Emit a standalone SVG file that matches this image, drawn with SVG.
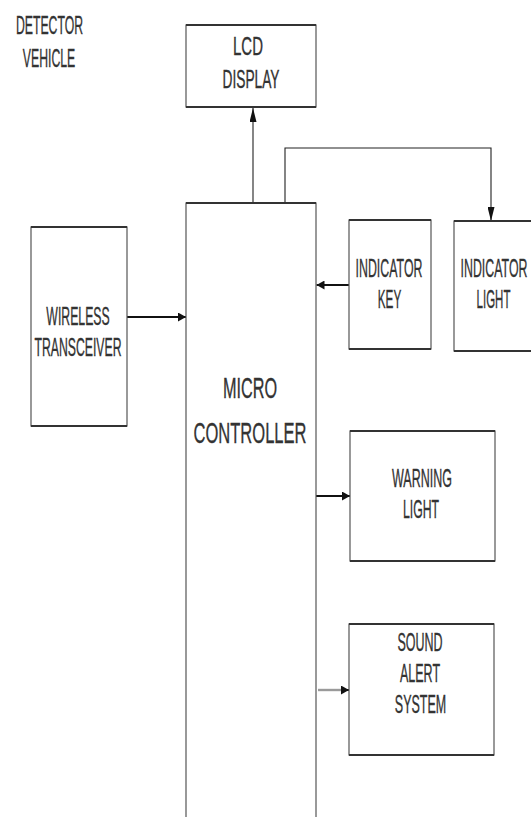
<svg xmlns="http://www.w3.org/2000/svg" width="531" height="817" viewBox="0 0 531 817">
<defs>
<style>
.box{fill:#fff;stroke:#555;stroke-width:1.2}
.edge{fill:none;stroke:#333;stroke-width:2.2}
.t{font-family:"Liberation Sans",Arial,sans-serif;font-size:25px;fill:#333;stroke:#333;stroke-width:0.35;text-anchor:middle}
.tb{font-size:29px}
.ln{fill:none;stroke:#222;stroke-width:1.1}
.lh{fill:none;stroke:#111;stroke-width:2}
.lg{fill:none;stroke:#9a9a9a;stroke-width:2.4}
</style>
<marker id="ah" markerUnits="userSpaceOnUse" markerWidth="8" markerHeight="9" refX="8" refY="4.5" orient="auto">
<path d="M0,0 L8,4.5 L0,9 Z" fill="#111"/>
</marker>
<marker id="av" markerUnits="userSpaceOnUse" markerWidth="14" markerHeight="7" refX="14" refY="3.5" orient="auto">
<path d="M0,0 L14,3.5 L0,7 Z" fill="#111"/>
</marker>
</defs>
<rect width="531" height="817" fill="#fff"/>

<g id="title">
<text class="t" transform="translate(49.5,34) scale(0.49,1)">DETECTOR</text>
<text class="t" transform="translate(49,67) scale(0.49,1)">VEHICLE</text>
</g>

<g id="connectors">
<path class="ln" d="M253,203 V108" marker-end="url(#av)"/>
<path class="ln" d="M285,203 V148 H491 V221" marker-end="url(#av)"/>
<path class="lh" d="M127,317 H186" marker-end="url(#ah)"/>
<path class="lh" d="M349,285 H316.5" marker-end="url(#ah)"/>
<path class="lh" d="M316,496 H350" marker-end="url(#ah)"/>
<path class="lg" d="M318,690 H343"/>
<path class="lh" d="M341,690 H349" marker-end="url(#ah)"/>
</g>

<g id="lcd">
<rect class="box" x="186" y="25" width="130" height="82"/>
<path class="edge" d="M186,25 H316 M186,107 H316"/>
<text class="t" transform="translate(248,55) scale(0.6,1)">LCD</text>
<text class="t" transform="translate(251,88) scale(0.55,1)">DISPLAY</text>
</g>

<g id="micro">
<rect class="box" x="186" y="203" width="130" height="620"/>
<path class="edge" d="M186,203 H316"/>
<text class="t tb" transform="translate(250,398) scale(0.56,1)">MICRO</text>
<text class="t tb" transform="translate(250,443) scale(0.57,1)">CONTROLLER</text>
</g>

<g id="wireless">
<rect class="box" x="31" y="227" width="96" height="199"/>
<path class="edge" d="M31,227 H127 M31,426 H127"/>
<text class="t" transform="translate(78,325) scale(0.49,1)">WIRELESS</text>
<text class="t" transform="translate(78,356) scale(0.49,1)">TRANSCEIVER</text>
</g>

<g id="indicator-key">
<rect class="box" x="349" y="220" width="82" height="129"/>
<path class="edge" d="M349,220 H431 M349,349 H431"/>
<text class="t" transform="translate(389,277) scale(0.495,1)">INDICATOR</text>
<text class="t" transform="translate(389.5,308) scale(0.47,1)">KEY</text>
</g>

<g id="indicator-light">
<rect class="box" x="454" y="221" width="90" height="130"/>
<path class="edge" d="M454,221 H531 M454,351 H531"/>
<text class="t" transform="translate(494,277) scale(0.495,1)">INDICATOR</text>
<text class="t" transform="translate(493.5,308) scale(0.46,1)">LIGHT</text>
</g>

<g id="warning-light">
<rect class="box" x="350" y="431" width="145" height="130"/>
<path class="edge" d="M350,431 H495 M350,561 H495"/>
<text class="t" transform="translate(422,487) scale(0.5,1)">WARNING</text>
<text class="t" transform="translate(421,518) scale(0.49,1)">LIGHT</text>
</g>

<g id="sound-alert">
<rect class="box" x="349" y="624" width="145" height="131"/>
<path class="edge" d="M349,624 H494 M349,755 H494"/>
<text class="t" transform="translate(420,651) scale(0.5,1)">SOUND</text>
<text class="t" transform="translate(420,682) scale(0.5,1)">ALERT</text>
<text class="t" transform="translate(420.5,713) scale(0.5,1)">SYSTEM</text>
</g>
</svg>
